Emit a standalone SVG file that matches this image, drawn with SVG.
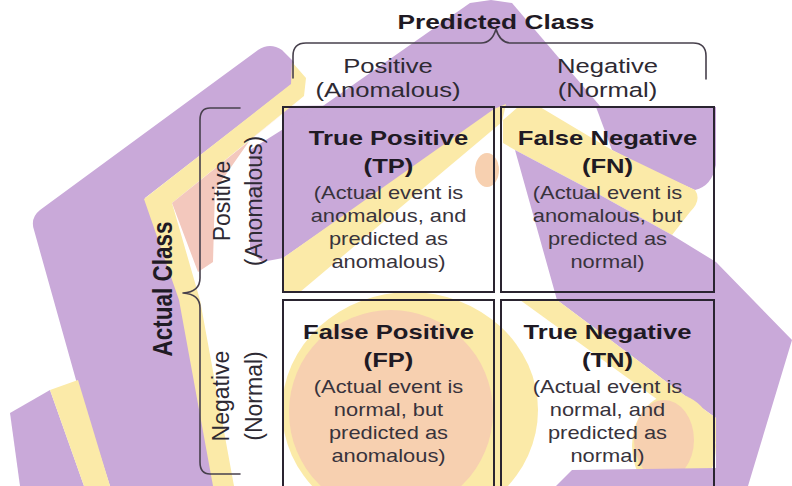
<svg xmlns="http://www.w3.org/2000/svg" width="792" height="486" viewBox="0 0 792 486">
<style>
.t{font-family:"Liberation Sans",Arial,sans-serif;text-anchor:middle;fill:#1e1e1e}
.b{font-weight:bold;font-size:20.5px;fill:#1f1a24}
.h{font-size:20.5px;fill:#2e2a33}
.r{font-size:23px;fill:#2e2a33}
.s{font-size:17.5px;fill:#38333c}
.box{fill:none;stroke:#2a2430;stroke-width:2}
.br{fill:none;stroke:#47404c;stroke-width:1.6;stroke-linejoin:round;stroke-linecap:round}
.wp{fill:#c9a9d9}.wy{fill:#fbeaa8}.wk{fill:#f7d0b0}.wq{fill:#f3c8bd}
</style>
<rect width="792" height="486" fill="#ffffff"/>

<g id="watermark">
<ellipse class="wy" cx="410" cy="410" rx="128" ry="118"/>
<circle class="wk" cx="391" cy="412" r="102"/>
<polygon class="wp" points="470,3 491,0 512,3 600,106 320,108"/>
<polygon class="wp" points="283,106 506,104 283,258"/>
<polygon class="wp" points="320,106 283,106 283,258 262,262 250,250 250,150"/>
<polygon class="wy" points="494,109 506,104 502,122 300,292 283,292 283,258"/>
<ellipse class="wk" cx="487" cy="170" rx="12" ry="17"/>
<path class="wp" d="M258,50 Q270,42 282,50 L294,62 L292,84 L145,198 L180,300 L215,486 L110,486 L76,380 L34,230 Q30,218 40,210 Z"/>
<polygon class="wy" points="292,62 306,78 304,96 172,203 200,300 234,486 213,486 179,300 144,199 291,84"/>
<polygon class="wq" points="300,100 250,140 215,190 213,262 198,272 172,203"/>
<polygon class="wp" points="10,413 50,390 84,486 20,486"/>
<polygon class="wy" points="50,390 78,380 110,486 84,486"/>
<path class="wp" d="M596,107 L716,107 L716,165 Q712,186 695,190 L650,170 L612,150 Z"/>
<path class="wy" d="M503,120 L518,107 L540,107 L612,150 L695,190 Q702,200 690,212 L672,235 L600,195 L515,150 L503,143 Z"/>
<polygon class="wp" points="515,150 600,195 672,235 716,262 792,340 748,486 716,486 716,418 680,392 557,300"/>
<polygon class="wy" points="520,300 557,300 680,392 716,418 716,442"/>
<ellipse class="wy" cx="674" cy="446" rx="42" ry="52"/>
<ellipse class="wk" cx="664" cy="440" rx="30" ry="40"/>
<polygon class="wp" points="556,486 572,470 716,468 716,486"/>
</g>

<g id="title"><text class="t b" style="font-size:21px" transform="translate(496,29) scale(1.25,1)">Predicted Class</text></g>

<g id="col-positive"><g transform="translate(388,0) scale(1.25,1)"><text class="t h" y="73">Positive</text><text class="t h" y="97">(Anomalous)</text></g></g>
<g id="col-negative"><g transform="translate(607.5,0) scale(1.25,1)"><text class="t h" y="73">Negative</text><text class="t h" y="97">(Normal)</text></g></g>

<g id="actual-class"><text class="t b" style="font-size:22.5px" transform="translate(172,289) scale(1.25,1) rotate(-90)">Actual Class</text></g>
<g id="row-positive"><text class="t r" transform="translate(230,201) rotate(-90)">Positive</text><text class="t r" transform="translate(262,201) rotate(-90)">(Anomalous)</text></g>
<g id="row-negative"><text class="t r" transform="translate(229,396) rotate(-90)">Negative</text><text class="t r" transform="translate(262,396) rotate(-90)">(Normal)</text></g>

<g id="tp"><rect class="box" x="283" y="107" width="211" height="185"/>
<g transform="translate(388.5,0) scale(1.25,1)"><text class="t b" y="145">True Positive</text><text class="t b" y="173">(TP)</text><text class="t s" y="199">(Actual event is</text><text class="t s" y="222">anomalous, and</text><text class="t s" y="245">predicted as</text><text class="t s" y="268">anomalous)</text></g></g>

<g id="fn"><rect class="box" x="501" y="107" width="213" height="185"/>
<g transform="translate(607.5,0) scale(1.25,1)"><text class="t b" y="145">False Negative</text><text class="t b" y="173">(FN)</text><text class="t s" y="199">(Actual event is</text><text class="t s" y="222">anomalous, but</text><text class="t s" y="245">predicted as</text><text class="t s" y="268">normal)</text></g></g>

<g id="fp"><rect class="box" x="283" y="300" width="211" height="200"/>
<g transform="translate(388.5,0) scale(1.25,1)"><text class="t b" y="339">False Positive</text><text class="t b" y="367">(FP)</text><text class="t s" y="393">(Actual event is</text><text class="t s" y="416">normal, but</text><text class="t s" y="439">predicted as</text><text class="t s" y="462">anomalous)</text></g></g>

<g id="tn"><rect class="box" x="501" y="300" width="213" height="200"/>
<g transform="translate(607.5,0) scale(1.25,1)"><text class="t b" y="339">True Negative</text><text class="t b" y="367">(TN)</text><text class="t s" y="393">(Actual event is</text><text class="t s" y="416">normal, and</text><text class="t s" y="439">predicted as</text><text class="t s" y="462">normal)</text></g></g>

<g id="connectors">
<path class="br" d="M293,78 L293,56 Q293,43 306,43 L481,43 Q492,43 496,29 Q500,43 511,43 L693,43 Q706,43 706,56 L706,79"/>
<path class="br" d="M240,108 L210,108 Q200,108 200,120 L200,278 Q200,292 183,293 Q200,294 200,308 L200,462 Q200,474 210,474 L240,474"/>
</g>
</svg>
